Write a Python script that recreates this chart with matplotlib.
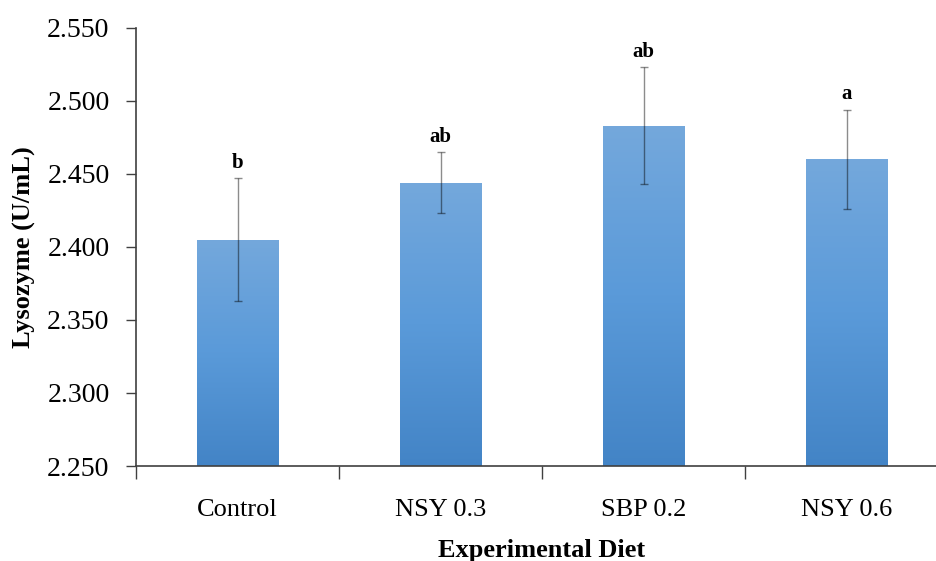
import numpy as np
import matplotlib
matplotlib.use("Agg")
import matplotlib.pyplot as plt
from matplotlib.colors import LinearSegmentedColormap

# ---- data ----
diets = ["Control", "NSY 0.3", "SBP 0.2", "NSY 0.6"]
lysozyme = [2.405, 2.444, 2.483, 2.460]
sem = [0.042, 0.021, 0.040, 0.034]
letters = ["b", "ab", "ab", "a"]
yticks = [2.250, 2.300, 2.350, 2.400, 2.450, 2.500, 2.550]

plt.rcParams['font.family'] = ['Liberation Serif', 'DejaVu Serif']

fig = plt.figure(figsize=(9.36, 5.61), dpi=100)
ax = fig.add_axes([136 / 936, 1 - 466 / 561, 812 / 936, 438 / 561])

x = np.arange(len(diets))
bars = ax.bar(x, lysozyme, width=0.4, bottom=0, color='none', zorder=2)

# vertical gradient fill, lighter at the top like the office-style bars
grad_cmap = LinearSegmentedColormap.from_list("bar", ["#4384c6", "#5a9ad9", "#74a8dc"])
grad = np.linspace(0, 1, 256).reshape(-1, 1)
for b in bars:
    x0, w, h = b.get_x(), b.get_width(), b.get_height()
    im = ax.imshow(grad, cmap=grad_cmap, origin='lower', aspect='auto',
                   extent=[x0, x0 + w, 2.25, h], zorder=2)
    im.set_clip_path(b)

ax.errorbar(x, lysozyme, yerr=sem, fmt='none', ecolor=(0, 0, 0, 0.45),
            elinewidth=1.0, capsize=3, capthick=1.0, zorder=3)

for xi, v, e, lab in zip(x, lysozyme, sem, letters):
    ax.annotate(lab, (xi, v + e), xytext=(0, 4), textcoords='offset points',
                ha='center', va='bottom', fontsize=15, fontweight='bold')

ax.set_xlim(-0.5, 3.5)
ax.set_ylim(2.25, 2.55)
ax.set_yticks(yticks)
ax.set_yticklabels([f"{t:.3f}" for t in yticks], fontsize=20)
ax.set_xticks(x)
ax.set_xticklabels(diets, fontsize=19)
ax.set_xticks(np.arange(-0.5, 4, 1), minor=True)
ax.tick_params(axis='x', which='major', length=0, pad=24)
ax.tick_params(axis='x', which='minor', length=9, width=1, color='#404040')
ax.tick_params(axis='y', length=7, width=1, color='#404040', pad=12)

for s in ['top', 'right']:
    ax.spines[s].set_visible(False)
for s in ['left', 'bottom']:
    ax.spines[s].set_color('#404040')
    ax.spines[s].set_linewidth(1.2)

ax.set_xlabel("Experimental Diet", fontsize=19, fontweight='bold', labelpad=13)
ax.set_ylabel("Lysozyme (U/mL)", fontsize=19, fontweight='bold', labelpad=8)

fig.savefig("out.png", dpi=100)
